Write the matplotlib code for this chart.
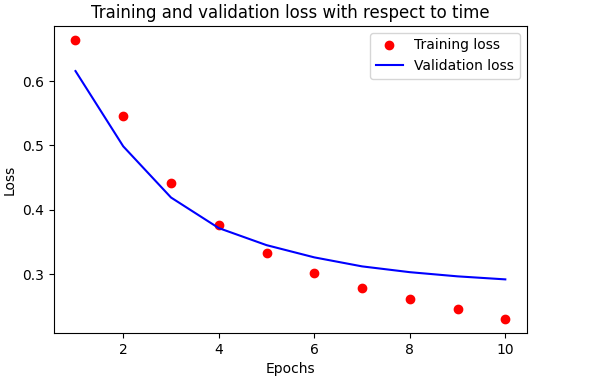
import matplotlib
matplotlib.use("Agg")
import matplotlib.pyplot as plt

# Loss values per epoch
epochs = [1, 2, 3, 4, 5, 6, 7, 8, 9, 10]
train_loss = [0.664, 0.546, 0.442, 0.377, 0.333, 0.302, 0.278, 0.261, 0.245, 0.230]
val_loss = [0.6155, 0.4985, 0.419, 0.3715, 0.345, 0.326, 0.312, 0.303, 0.2965, 0.2918]

plt.rcParams['font.size'] = 10

fig = plt.figure(figsize=(6, 3.86), dpi=100)
ax = fig.add_axes([0.09, 0.137, 0.788, 0.796])

ax.plot(epochs, train_loss, 'ro', markersize=6, label='Training loss')
ax.plot(epochs, val_loss, 'b', linewidth=1.5, label='Validation loss')

ax.set_title('Training and validation loss with respect to time', fontsize=12)
ax.set_xlabel('Epochs')
ax.set_ylabel('Loss')
ax.legend()

fig.savefig('out.png', dpi=100)
